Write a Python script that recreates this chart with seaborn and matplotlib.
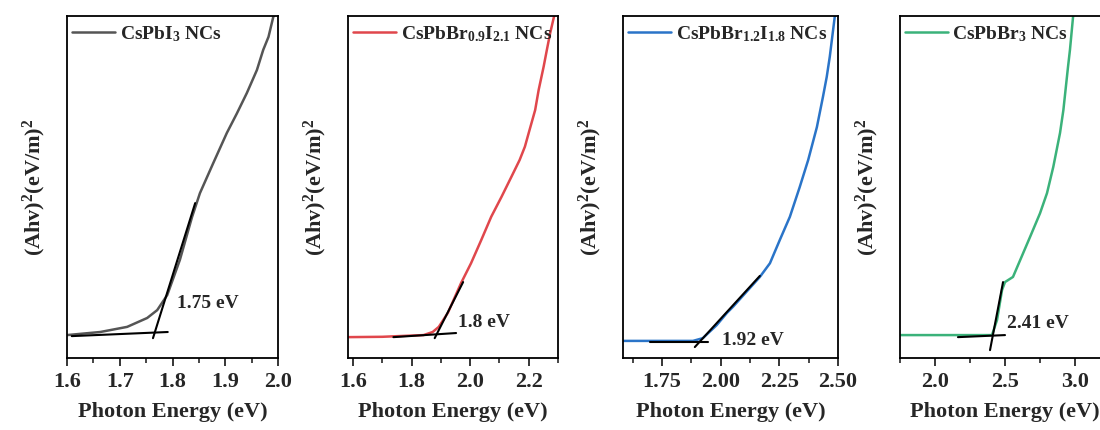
import numpy as np
import pandas as pd
import matplotlib
matplotlib.use("Agg")
import matplotlib.pyplot as plt
from matplotlib.ticker import MultipleLocator
import seaborn as sns

# Dados (Tauc plot, unidades arbitrárias normalizadas 0-1)
pbi3_x = [1.600, 1.663, 1.714, 1.752, 1.771, 1.790, 1.814, 1.837, 1.852, 1.877, 1.903,
          1.922, 1.941, 1.960, 1.972, 1.982, 1.991, 2.000]
pbi3_y = [0.067, 0.076, 0.091, 0.117, 0.140, 0.184, 0.287, 0.412, 0.482, 0.569, 0.658,
          0.715, 0.775, 0.842, 0.901, 0.939, 0.997, 1.030]

br09_x = [1.583, 1.700, 1.841, 1.872, 1.893, 1.924, 1.969, 2.003, 2.038, 2.072, 2.107,
          2.141, 2.169, 2.187, 2.200, 2.222, 2.234, 2.251, 2.262, 2.273, 2.286, 2.295]
br09_y = [0.061, 0.062, 0.067, 0.076, 0.091, 0.132, 0.219, 0.277, 0.345, 0.413, 0.471,
          0.530, 0.579, 0.618, 0.658, 0.725, 0.784, 0.852, 0.901, 0.949, 0.997, 1.030]

br12_x = [1.584, 1.750, 1.882, 1.924, 1.983, 2.027, 2.053, 2.167, 2.210, 2.252, 2.295,
          2.337, 2.373, 2.410, 2.436, 2.452, 2.465, 2.486, 2.495]
br12_y = [0.050, 0.050, 0.050, 0.058, 0.096, 0.132, 0.150, 0.237, 0.277, 0.345, 0.413,
          0.500, 0.579, 0.675, 0.764, 0.822, 0.881, 0.997, 1.030]

br3_x = [1.750, 2.100, 2.407, 2.443, 2.479, 2.500, 2.557, 2.679, 2.750, 2.800, 2.845,
         2.893, 2.917, 2.950, 2.964, 2.986, 2.995]
br3_y = [0.067, 0.067, 0.067, 0.111, 0.199, 0.222, 0.237, 0.354, 0.423, 0.482, 0.559,
         0.658, 0.725, 0.851, 0.901, 0.997, 1.030]

# Retas tangentes (extrapolação do gap) e linha de base
pbi3_tan_x, pbi3_tan_y = [1.763, 1.843], [0.058, 0.453]
pbi3_base_x, pbi3_base_y = [1.609, 1.791], [0.064, 0.076]
br09_tan_x, br09_tan_y = [1.879, 1.976], [0.058, 0.222]
br09_base_x, br09_base_y = [1.738, 1.952], [0.061, 0.073]
br12_tan_x, br12_tan_y = [1.890, 2.167], [0.032, 0.240]
br12_base_x, br12_base_y = [1.699, 1.946], [0.047, 0.047]
br3_tan_x, br3_tan_y = [2.393, 2.486], [0.023, 0.222]
br3_base_x, br3_base_y = [2.164, 2.500], [0.061, 0.067]

labels = [r"CsPbI$_{3}$ NCs", r"CsPbBr$_{0.9}$I$_{2.1}$ NCs",
          r"CsPbBr$_{1.2}$I$_{1.8}$ NCs", r"CsPbBr$_{3}$ NCs"]
gaps = ["1.75 eV", "1.8 eV", "1.92 eV", "2.41 eV"]
gap_pos = [(1.808, 0.16), (1.959, 0.105), (2.005, 0.05), (2.514, 0.102)]
colors = ["#555555", "#e0474c", "#2a74c8", "#3bb27a"]
xlims = [(1.6, 2.0), (1.583, 2.30), (1.584, 2.50), (1.75, 3.25)]
major = [0.1, 0.2, 0.25, 0.5]

curves = [(pbi3_x, pbi3_y), (br09_x, br09_y), (br12_x, br12_y), (br3_x, br3_y)]
tangents = [(pbi3_tan_x, pbi3_tan_y), (br09_tan_x, br09_tan_y),
            (br12_tan_x, br12_tan_y), (br3_tan_x, br3_tan_y)]
bases = [(pbi3_base_x, pbi3_base_y), (br09_base_x, br09_base_y),
         (br12_base_x, br12_base_y), (br3_base_x, br3_base_y)]

sns.set_style("ticks")
plt.rcParams['font.family'] = ['Liberation Serif', 'DejaVu Serif']
plt.rcParams['font.weight'] = 'bold'
plt.rcParams['mathtext.default'] = 'regular'
plt.rcParams['axes.linewidth'] = 1.3

fig = plt.figure(figsize=(11, 4.3), dpi=100)
lefts = [67, 348, 623, 900]
widths = [211, 210, 215, 210]

for i in range(4):
    ax = fig.add_axes([lefts[i] / 1100, 72 / 430, widths[i] / 1100, 342 / 430])
    df = pd.DataFrame({"x": curves[i][0], "y": curves[i][1]})
    sns.lineplot(data=df, x="x", y="y", color=colors[i], lw=1.8,
                 label=labels[i], ax=ax)
    ax.plot(tangents[i][0], tangents[i][1], color="black", lw=1.5)
    ax.plot(bases[i][0], bases[i][1], color="black", lw=1.5)
    ax.text(gap_pos[i][0], gap_pos[i][1], gaps[i], fontsize=14,
            fontweight="bold", va="center", ha="left")
    ax.set_xlim(*xlims[i])
    ax.set_ylim(0, 1)
    ax.set_yticks([])
    ax.xaxis.set_major_locator(MultipleLocator(major[i]))
    ax.xaxis.set_minor_locator(MultipleLocator(major[i] / 2))
    if i == 2:
        ax.xaxis.set_major_formatter(plt.FormatStrFormatter("%.2f"))
    else:
        ax.xaxis.set_major_formatter(plt.FormatStrFormatter("%.1f"))
    ax.tick_params(axis="x", which="major", direction="out", length=6,
                   width=1.3, labelsize=16, pad=4)
    ax.tick_params(axis="x", which="minor", direction="out", length=3.5, width=1.2)
    for lab in ax.get_xticklabels():
        lab.set_fontweight("bold")
    for sp in ax.spines.values():
        sp.set_visible(True)
        sp.set_color("black")
    ax.set_xlabel("Photon Energy (eV)", fontsize=16, fontweight="bold", labelpad=7)
    ax.set_ylabel(r"(Ahv)$^{2}$(eV/m)$^{2}$", fontsize=16, fontweight="bold", labelpad=14)
    leg = ax.legend(loc="upper left", bbox_to_anchor=(0.0, 0.99), frameon=False,
                    fontsize=14, handlelength=2.2, handletextpad=0.25,
                    borderaxespad=0.15, borderpad=0.1)
    for t in leg.get_texts():
        t.set_fontweight("bold")

plt.savefig("out.png", dpi=100)
